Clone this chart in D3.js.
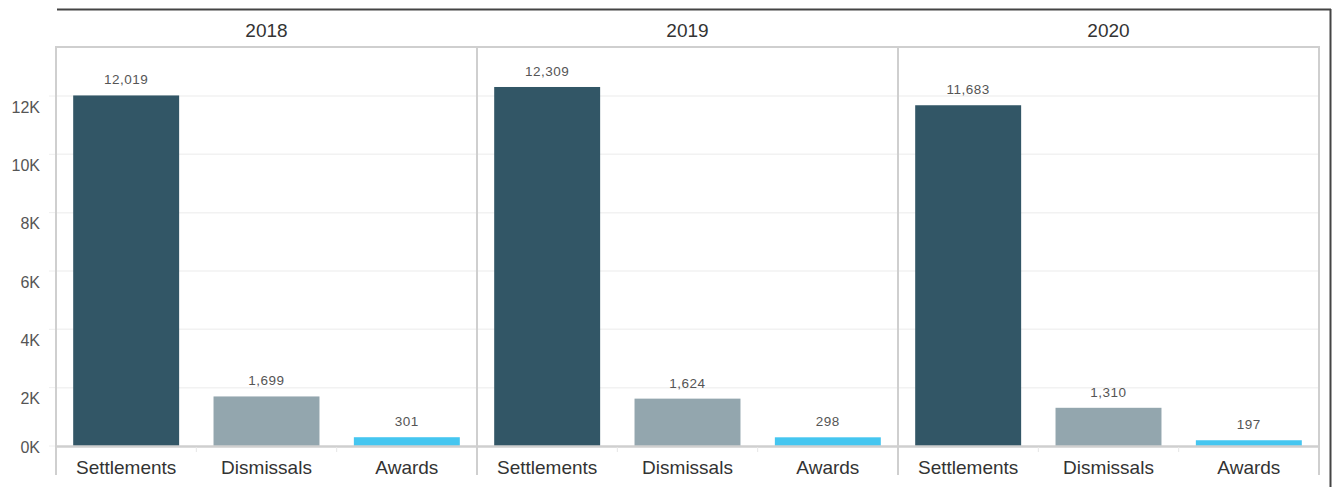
<!DOCTYPE html>
<html>
<head>
<meta charset="utf-8">
<script src="https://cdn.jsdelivr.net/npm/d3@7"></script>
<style>
  body { margin: 0; background: #fff; font-family: "Liberation Sans", Arial, sans-serif; }
  svg { display: block; }
</style>
</head>
<body>
<div id="plot"></div>
<script>
// data
const years = ["2018", "2019", "2020"];
const categories = ["Settlements", "Dismissals", "Awards"];
const settlements = [12019, 12309, 11683];
const dismissals = [1699, 1624, 1310];
const awards = [301, 298, 197];
const yTicks = [0, 2000, 4000, 6000, 8000, 10000, 12000];

const series = [settlements, dismissals, awards];
const colors = ["#325666", "#93a6ae", "#45c6f0"];

const w = 1333;
const h = 487;
const margin = { top: 47, right: 14, bottom: 41, left: 56 };

const svg = d3.select("div#plot")
    .append("svg")
    .attr("width", w)
    .attr("height", h);

// outer frame lines (top and right)
svg.append("line")
    .attr("x1", 57).attr("x2", 1331)
    .attr("y1", 9.5).attr("y2", 9.5)
    .attr("stroke", "#444").attr("stroke-width", 2);
svg.append("line")
    .attr("x1", 1330.5).attr("x2", 1330.5)
    .attr("y1", 9).attr("y2", h)
    .attr("stroke", "#444").attr("stroke-width", 2);

const xPanel = d3.scaleBand()
    .domain(years)
    .range([margin.left, w - margin.right]);

const yScale = d3.scaleLinear()
    .domain([0, 12000])
    .range([446, 96]);

const panelTop = margin.top;
const panelBottom = 475;

// y axis labels (sit a bit below their gridline, 0K stays on the baseline)
const yAxis = d3.axisLeft(yScale)
    .tickValues(yTicks)
    .tickFormat(d => (d / 1000) + "K")
    .tickSize(0)
    .tickPadding(16);

const yg = svg.append("g")
    .attr("transform", `translate(${margin.left}, 0)`)
    .call(yAxis);
yg.select(".domain").remove();
yg.selectAll("text")
    .attr("font-size", 16)
    .attr("font-family", "Liberation Sans, Arial, sans-serif")
    .attr("fill", "#555")
    .attr("transform", d => `translate(0, ${d === 0 ? 1.5 : 11})`);

// small tick stubs left of panel
svg.selectAll(".ystub")
    .data(yTicks)
    .enter()
    .append("line")
    .attr("x1", 49).attr("x2", margin.left)
    .attr("y1", d => yScale(d)).attr("y2", d => yScale(d))
    .attr("stroke", "#eee").attr("stroke-width", 1);

years.forEach((yr, i) => {
  const x0 = xPanel(yr);
  const pw = xPanel.bandwidth();
  const g = svg.append("g").attr("transform", `translate(${x0}, 0)`);

  const xScale = d3.scaleBand()
      .domain(categories)
      .range([0, pw])
      .paddingInner(0.245)
      .paddingOuter(0.1225);

  // gridlines
  g.selectAll(".grid")
      .data(yTicks.slice(1))
      .enter()
      .append("line")
      .attr("x1", 0).attr("x2", pw)
      .attr("y1", d => yScale(d)).attr("y2", d => yScale(d))
      .attr("stroke", "#f2f2f2").attr("stroke-width", 1.5);

  // panel frame
  g.append("path")
      .attr("d", `M0,${panelBottom}V${panelTop}H${pw}V${panelBottom}`)
      .attr("fill", "none")
      .attr("stroke", "#cfcfcf")
      .attr("stroke-width", 2);

  // year header
  g.append("text")
      .attr("x", pw / 2).attr("y", 37)
      .attr("text-anchor", "middle")
      .attr("font-size", 19)
      .attr("fill", "#333")
      .text(yr);

  const vals = series.map(s => s[i]);

  g.selectAll(".bar")
      .data(vals)
      .enter()
      .append("rect")
      .attr("class", "bar")
      .attr("x", (d, j) => xScale(categories[j]))
      .attr("y", d => yScale(d))
      .attr("width", xScale.bandwidth())
      .attr("height", d => yScale(0) - yScale(d))
      .attr("fill", (d, j) => colors[j]);

  g.selectAll(".val")
      .data(vals)
      .enter()
      .append("text")
      .attr("x", (d, j) => xScale(categories[j]) + xScale.bandwidth() / 2)
      .attr("y", d => yScale(d) - 11)
      .attr("text-anchor", "middle")
      .attr("font-size", 13.5)
      .attr("letter-spacing", 0.5)
      .attr("fill", "#555")
      .text(d => d3.format(",")(d));

  // zero axis line
  g.append("line")
      .attr("x1", 0).attr("x2", pw)
      .attr("y1", 446.5).attr("y2", 446.5)
      .attr("stroke", "#cfcfcf").attr("stroke-width", 2.5);

  // category ticks between bands
  g.selectAll(".ctick")
      .data([1, 2])
      .enter()
      .append("line")
      .attr("x1", d => pw * d / 3).attr("x2", d => pw * d / 3)
      .attr("y1", 447).attr("y2", 452)
      .attr("stroke", "#e6e6e6").attr("stroke-width", 1);

  const xAxis = d3.axisBottom(xScale).tickSize(0).tickPadding(15);
  const xg = g.append("g")
      .attr("transform", `translate(0, 446)`)
      .call(xAxis);
  xg.select(".domain").remove();
  xg.selectAll("text")
      .attr("font-size", 19)
      .attr("font-family", "Liberation Sans, Arial, sans-serif")
      .attr("fill", "#333");
});
</script>
</body>
</html>
